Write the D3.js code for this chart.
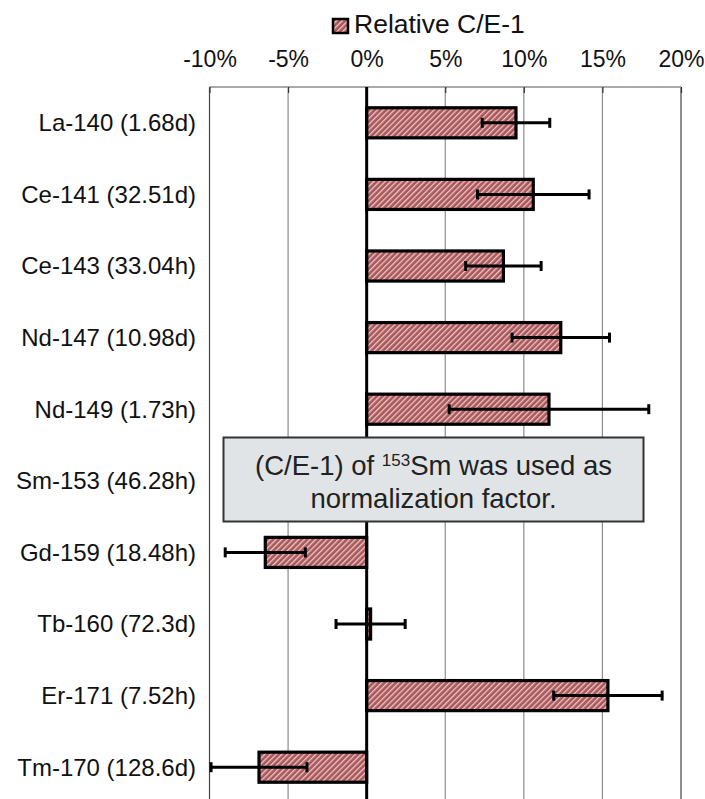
<!DOCTYPE html>
<html>
<head>
<meta charset="utf-8">
<script src="https://cdn.jsdelivr.net/npm/d3@7"></script>
<style>
  body { margin: 0; background: #fff; }
  svg text { font-family: Arial, "Liberation Sans", sans-serif; }
</style>
</head>
<body>
<div id="chart"></div>
<script>
// nuclide labels (half-life in brackets)
var categories = ["La-140 (1.68d)", "Ce-141 (32.51d)", "Ce-143 (33.04h)", "Nd-147 (10.98d)",
  "Nd-149 (1.73h)", "Sm-153 (46.28h)", "Gd-159 (18.48h)", "Tb-160 (72.3d)",
  "Er-171 (7.52h)", "Tm-170 (128.6d)"];
// relative C/E-1 in percent
var values = [9.5, 10.6, 8.7, 12.35, 11.6, 0, -6.45, 0.25, 15.35, -6.85];
// +/- uncertainty in percent
var errors = [2.15, 3.55, 2.4, 3.1, 6.35, 0, 2.55, 2.2, 3.45, 3.05];
var tickValues = [-10, -5, 0, 5, 10, 15, 20];
var seriesName = "Relative C/E-1";
var noteLines = ["(C/E-1) of ", "153", "Sm was used as", "normalization factor."];

var width = 705, height = 799;
var plot = {left: 209.5, right: 681, top: 87, bottom: 803};

var svg = d3.select("#chart").append("svg")
  .attr("width", width)
  .attr("height", height);

// hatch pattern for the bars
var defs = svg.append("defs");
var pat = defs.append("pattern")
  .attr("id", "hatch")
  .attr("patternUnits", "userSpaceOnUse")
  .attr("width", 4).attr("height", 4)
  .attr("patternTransform", "rotate(45)");
pat.append("rect").attr("width", 4).attr("height", 4).attr("fill", "#a9575a");
pat.append("rect").attr("width", 1.3).attr("height", 4).attr("fill", "#ecc9c9");

var x = d3.scaleLinear().domain([-10, 20]).range([plot.left, plot.right]);
var y = d3.scaleBand().domain(categories)
  .range([plot.top, plot.bottom])
  .paddingInner(0.58).paddingOuter(0.29);

// gridlines
svg.append("g").selectAll("line")
  .data(tickValues)
  .join("line")
  .attr("x1", function(d){ return x(d); })
  .attr("x2", function(d){ return x(d); })
  .attr("y1", plot.top).attr("y2", plot.bottom)
  .attr("stroke", function(d, i){ return (i == 0 || i == tickValues.length - 1) ? "#444" : "#8c8c8c"; })
  .attr("stroke-width", 1.2);

// plot top border
svg.append("line")
  .attr("x1", plot.left).attr("x2", plot.right)
  .attr("y1", plot.top).attr("y2", plot.top)
  .attr("stroke", "#8c8c8c").attr("stroke-width", 1.5);

// top axis, labels only
var xAxis = d3.axisTop(x).tickValues(tickValues)
  .tickSize(-6).tickPadding(20)
  .tickFormat(function(d){ return d + "%"; });
var gx = svg.append("g").attr("transform", "translate(0," + plot.top + ")").call(xAxis);
gx.select(".domain").remove();
gx.selectAll(".tick line").attr("stroke", "#333").attr("stroke-width", 1.2);
gx.selectAll(".tick text")
  .attr("font-size", 23).attr("fill", "#111")
  .attr("dy", "0")
  .attr("y", -20);

// category labels
svg.append("g").selectAll("text")
  .data(categories)
  .join("text")
  .attr("x", 196)
  .attr("y", function(d){ return y(d) + y.bandwidth() / 2; })
  .attr("dy", "0.35em")
  .attr("text-anchor", "end")
  .attr("font-size", 24)
  .attr("fill", "#111")
  .text(function(d){ return d; });

// bars
svg.append("g").selectAll("rect")
  .data(values)
  .join("rect")
  .attr("x", function(d){ return x(Math.min(0, d)); })
  .attr("y", function(d, i){ return y(categories[i]); })
  .attr("width", function(d){ return Math.abs(x(d) - x(0)); })
  .attr("height", y.bandwidth())
  .attr("fill", "url(#hatch)")
  .attr("stroke", "#000")
  .attr("stroke-width", 3.2)
  .attr("display", function(d){ return d == 0 ? "none" : null; });

// zero line
svg.append("line")
  .attr("x1", x(0)).attr("x2", x(0))
  .attr("y1", plot.top).attr("y2", plot.bottom)
  .attr("stroke", "#000").attr("stroke-width", 3);

// error bars
var eb = svg.append("g").selectAll("g")
  .data(values.map(function(v, i){ return {v: v, e: errors[i], c: categories[i]}; })
    .filter(function(d){ return d.e > 0; }))
  .join("g")
  .attr("transform", function(d){ return "translate(0," + (y(d.c) + y.bandwidth() / 2) + ")"; });
eb.append("line")
  .attr("x1", function(d){ return x(d.v - d.e); })
  .attr("x2", function(d){ return x(d.v + d.e); })
  .attr("stroke", "#000").attr("stroke-width", 3);
eb.selectAll(".cap")
  .data(function(d){ return [d.v - d.e, d.v + d.e]; })
  .join("line")
  .attr("class", "cap")
  .attr("x1", function(d){ return x(d); })
  .attr("x2", function(d){ return x(d); })
  .attr("y1", -5).attr("y2", 5)
  .attr("stroke", "#000").attr("stroke-width", 3);

// legend
var leg = svg.append("g");
leg.append("rect")
  .attr("x", 333).attr("y", 19).attr("width", 15).attr("height", 14)
  .attr("fill", "url(#hatch)").attr("stroke", "#000").attr("stroke-width", 2.5);
leg.append("text")
  .attr("x", 354).attr("y", 33)
  .attr("font-size", 26.5).attr("fill", "#111")
  .text(seriesName);

// note box
var note = svg.append("g");
note.append("rect")
  .attr("x", 223.5).attr("y", 437.5).attr("width", 420).attr("height", 84)
  .attr("fill", "#e1e4e6").attr("stroke", "#333").attr("stroke-width", 2);
var t1 = note.append("text")
  .attr("x", 433.5).attr("y", 475)
  .attr("text-anchor", "middle")
  .attr("font-size", 27.5).attr("fill", "#222");
t1.append("tspan").text(noteLines[0]);
t1.append("tspan").attr("baseline-shift", "super").attr("font-size", 17).text(noteLines[1]);
t1.append("tspan").text(noteLines[2]);
note.append("text")
  .attr("x", 433.5).attr("y", 508)
  .attr("text-anchor", "middle")
  .attr("font-size", 27.5).attr("fill", "#222")
  .text(noteLines[3]);
</script>
</body>
</html>
